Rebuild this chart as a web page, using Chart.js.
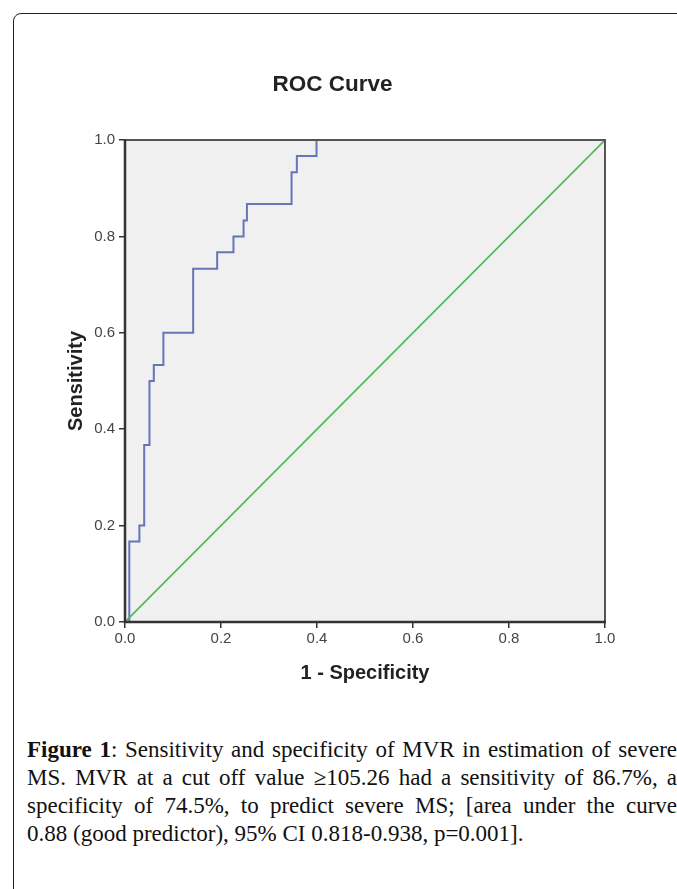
<!DOCTYPE html>
<html>
<head>
<meta charset="utf-8">
<script src="https://cdn.jsdelivr.net/npm/chart.js@4"></script>
<style>
  html, body { margin:0; padding:0; background:#fff; }
  body { width:677px; height:889px; position:relative; overflow:hidden; }
  #frame { position:absolute; left:13px; top:13px; width:720px; height:920px;
           border:1.5px solid #222; border-radius:8px; box-sizing:border-box; }
  #wrap { position:absolute; left:0; top:0; width:677px; height:700px; }
  #caption { position:absolute; left:27px; top:736px; width:650px;
             font-family:"Liberation Serif", "DejaVu Serif", serif; font-size:23px;
             line-height:28px; color:#111; }
  #caption .j { text-align:justify; text-align-last:justify; white-space:nowrap; }
  #caption .l { text-align:left; white-space:nowrap; }
</style>
</head>
<body>
<div id="frame"></div>
<div id="wrap"><canvas id="c" width="677" height="700"></canvas></div>
<div id="caption">
  <div class="j"><b>Figure 1</b>: Sensitivity and specificity of MVR in estimation of severe</div>
  <div class="j">MS. MVR at a cut off value ≥105.26 had a sensitivity of 86.7%, a</div>
  <div class="j">specificity of 74.5%, to predict severe MS; [area under the curve</div>
  <div class="l">0.88 (good predictor), 95% CI 0.818-0.938, p=0.001].</div>
</div>
<script>
// ROC curve corner points (1 - Specificity, Sensitivity)
const rocFpr = [0, 0.009, 0.009, 0.030, 0.030, 0.040, 0.040, 0.051, 0.051, 0.060, 0.060, 0.080, 0.080,
                0.142, 0.142, 0.192, 0.192, 0.226, 0.226, 0.247, 0.247, 0.254, 0.254, 0.347, 0.347,
                0.358, 0.358, 0.399, 0.399, 1.0];
const rocTpr = [0, 0, 0.167, 0.167, 0.200, 0.200, 0.367, 0.367, 0.500, 0.500, 0.533, 0.533, 0.600,
                0.600, 0.733, 0.733, 0.767, 0.767, 0.800, 0.800, 0.833, 0.833, 0.867, 0.867, 0.933,
                0.933, 0.967, 0.967, 1.0, 1.0];
// Reference diagonal
const refX = [0, 1];
const refY = [0, 1];
const tickValues = [0, 0.2, 0.4, 0.6, 0.8, 1.0];

const toPts = (xs, ys) => xs.map((x, i) => ({x: x, y: ys[i]}));

const plotFrame = {
  id: 'plotFrame',
  beforeDatasetsDraw(chart) {
    const a = chart.chartArea, ctx = chart.ctx;
    ctx.save();
    ctx.fillStyle = '#f0f0f0';
    ctx.fillRect(a.left, a.top, a.right - a.left, a.bottom - a.top);
    ctx.restore();
  },
  afterDatasetsDraw(chart) {
    const a = chart.chartArea, ctx = chart.ctx;
    ctx.save();
    ctx.strokeStyle = '#555';
    ctx.lineWidth = 2;
    ctx.beginPath();
    ctx.moveTo(a.left, a.top); ctx.lineTo(a.right, a.top); ctx.lineTo(a.right, a.bottom);
    ctx.stroke();
    ctx.strokeStyle = '#333';
    ctx.lineWidth = 2.5;
    ctx.beginPath();
    ctx.moveTo(a.left, a.top - 1); ctx.lineTo(a.left, a.bottom); ctx.lineTo(a.right + 1, a.bottom);
    ctx.stroke();
    ctx.restore();
  }
};

const SANS = 'Liberation Sans, Arial, sans-serif';

new Chart(document.getElementById('c'), {
  type: 'scatter',
  data: {
    datasets: [
      { data: toPts(refX, refY), showLine: true, borderColor: '#4dba4d', borderWidth: 1.6,
        pointRadius: 0, fill: false },
      { data: toPts(rocFpr, rocTpr), showLine: true, borderColor: '#6575b8', borderWidth: 2,
        pointRadius: 0, fill: false, tension: 0 }
    ]
  },
  options: {
    responsive: false,
    animation: false,
    layout: { padding: { left: 60, right: 72, top: 60, bottom: 15 } },
    plugins: {
      legend: { display: false },
      tooltip: { enabled: false },
      title: { display: true, text: 'ROC Curve', color: '#222',
               font: { family: SANS, size: 22.5, weight: 'bold' },
               padding: { top: 11.5, bottom: 41.5 } }
    },
    scales: {
      x: {
        type: 'linear', min: 0, max: 1,
        afterBuildTicks(s) { s.ticks = tickValues.map(v => ({value: v})); },
        afterFit(s) { s.height = 63; },
        ticks: { color: '#444', font: { family: SANS, size: 15 },
                 padding: 2, maxRotation: 0, callback: v => Number(v).toFixed(1) },
        grid: { drawOnChartArea: false, drawTicks: true, tickLength: 6, color: '#333', lineWidth: 1.5 },
        border: { display: false },
        title: { display: true, text: '1 - Specificity', color: '#222',
                 font: { family: SANS, size: 20, weight: 'bold' },
                 padding: { top: 4, bottom: 0 } }
      },
      y: {
        type: 'linear', min: 0, max: 1,
        afterBuildTicks(s) { s.ticks = tickValues.map(v => ({value: v})); },
        afterFit(s) { s.width = 65; },
        ticks: { color: '#444', font: { family: SANS, size: 15 },
                 padding: 4, callback: v => Number(v).toFixed(1) },
        grid: { drawOnChartArea: false, drawTicks: true, tickLength: 6, color: '#333', lineWidth: 1.5 },
        border: { display: false },
        title: { display: true, text: 'Sensitivity', color: '#222',
                 font: { family: SANS, size: 20, weight: 'bold' },
                 padding: { top: 4, bottom: 4 } }
      }
    }
  },
  plugins: [plotFrame]
});
</script>
</body>
</html>
